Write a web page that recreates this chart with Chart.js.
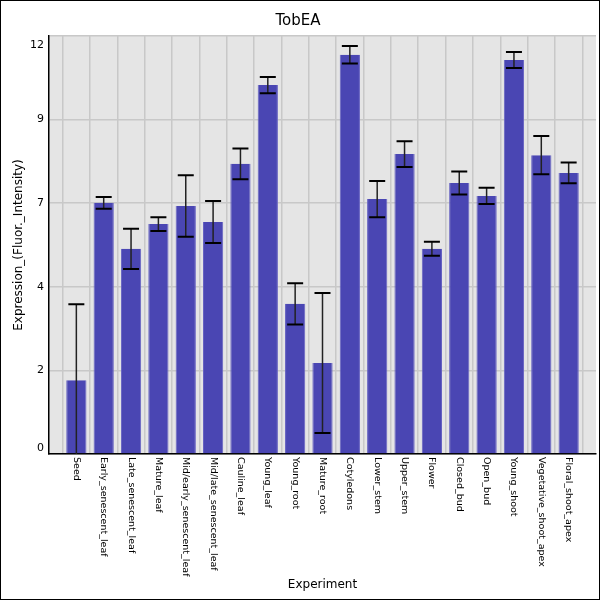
<!DOCTYPE html>
<html>
<head>
<meta charset="utf-8">
<title>TobEA</title>
<script src="https://cdn.jsdelivr.net/npm/chart.js@4.4.1/dist/chart.umd.min.js"></script>
<style>
  html, body { margin: 0; padding: 0; background: #fff; }
  canvas { display: block; }
</style>
</head>
<body>
<canvas id="tobChart" width="600" height="600"></canvas>
<script>
// Dados do gráfico
const categories = [
  'Seed', 'Early_senescent_leaf', 'Late_senescent_leaf', 'Mature_leaf',
  'Mid/early_senescent_leaf', 'Mid/late_senescent_leaf', 'Cauline_leaf',
  'Young_leaf', 'Young_root', 'Mature_root', 'Cotyledons', 'Lower_stem',
  'Upper_stem', 'Flower', 'Closed_bud', 'Open_bud', 'Young_shoot',
  'Vegetative_shoot_apex', 'Floral_shoot_apex'
];
const expression = [
  2.12, 7.21, 5.89, 6.60, 7.12, 6.66, 8.33, 10.59, 4.31, 2.61,
  11.46, 7.32, 8.61, 5.89, 7.78, 7.41, 11.31, 8.58, 8.07
];
const errors = [
  2.18, 0.17, 0.58, 0.20, 0.88, 0.60, 0.44, 0.23, 0.59, 2.01,
  0.25, 0.52, 0.37, 0.20, 0.33, 0.23, 0.23, 0.55, 0.30
];
const yTicks = [0, 2.4, 4.8, 7.2, 9.6, 12];

// Uma categoria vazia em cada ponta, como no original
const axisLabels = ['', ...categories, ''];
const axisValues = [null, ...expression, null];

const FONT = 'DejaVu Sans';

// Plugin: fundo cinza, barras de erro, rótulos e moldura
const decorPlugin = {
  id: 'decor',
  beforeDraw(chart) {
    const { ctx, chartArea: a } = chart;
    ctx.save();
    ctx.fillStyle = '#fff';
    ctx.fillRect(0, 0, chart.width, chart.height);
    ctx.fillStyle = '#e5e5e5';
    ctx.fillRect(a.left, a.top, a.right - a.left, a.bottom - a.top);
    ctx.restore();
  },
  afterDatasetsDraw(chart) {
    const { ctx, chartArea: a } = chart;
    const xs = chart.scales.x, ys = chart.scales.y;
    ctx.save();
    ctx.beginPath();
    ctx.rect(a.left, a.top - 2, a.right - a.left, a.bottom - a.top + 2);
    ctx.clip();
    expression.forEach((v, i) => {
      const x = xs.getPixelForValue(i + 1);
      const yHi = ys.getPixelForValue(v + errors[i]);
      const yLo = ys.getPixelForValue(v - errors[i]);
      ctx.strokeStyle = '#222';
      ctx.lineWidth = 1.5;
      ctx.beginPath();
      ctx.moveTo(x, yHi);
      ctx.lineTo(x, yLo);
      ctx.stroke();
      ctx.strokeStyle = '#000';
      ctx.lineWidth = 2;
      ctx.beginPath();
      ctx.moveTo(x - 8, yHi); ctx.lineTo(x + 8, yHi);
      ctx.moveTo(x - 8, yLo); ctx.lineTo(x + 8, yLo);
      ctx.stroke();
    });
    ctx.restore();
  },
  afterDraw(chart) {
    const { ctx, chartArea: a } = chart;
    const xs = chart.scales.x, ys = chart.scales.y;
    ctx.save();
    ctx.fillStyle = '#000';
    // rótulos do eixo Y (truncados, como no original)
    ctx.font = '11px "' + FONT + '"';
    ctx.textAlign = 'right';
    ctx.textBaseline = 'middle';
    yTicks.forEach(v => {
      let y = ys.getPixelForValue(v);
      if (v === yTicks[0]) y = a.bottom - 6;
      if (v === yTicks[yTicks.length - 1]) y = a.top + 9;
      ctx.fillText(String(Math.floor(v + 1e-9)), a.left - 5, y);
    });
    // rótulos do eixo X girados 90 graus
    ctx.font = '9.5px "' + FONT + '"';
    ctx.textAlign = 'left';
    categories.forEach((c, i) => {
      const x = xs.getPixelForValue(i + 1);
      ctx.save();
      ctx.translate(x, a.bottom + 3);
      ctx.rotate(Math.PI / 2);
      ctx.fillText(c, 0, 0);
      ctx.restore();
    });
    // moldura
    ctx.strokeStyle = '#000';
    ctx.lineWidth = 1;
    ctx.strokeRect(0.5, 0.5, chart.width - 1, chart.height - 1);
    ctx.restore();
  }
};

new Chart(document.getElementById('tobChart'), {
  type: 'bar',
  data: {
    labels: axisLabels,
    datasets: [{
      label: 'TobEA',
      data: axisValues,
      backgroundColor: '#4a46b3',
      borderColor: '#6662c2',
      borderWidth: { left: 1, right: 1, top: 0, bottom: 0 },
      barPercentage: 0.74,
      categoryPercentage: 1
    }]
  },
  options: {
    responsive: false,
    animation: false,
    devicePixelRatio: 1,
    layout: { padding: { left: 0, right: 4, top: 0, bottom: 0 } },
    plugins: {
      legend: { display: false },
      tooltip: { enabled: false },
      title: {
        display: true,
        text: 'TobEA',
        color: '#000',
        font: { family: FONT, size: 15, weight: 'normal' },
        padding: { top: 12, bottom: 6 }
      }
    },
    scales: {
      x: {
        offset: false,
        grid: { color: '#c8c8c8', lineWidth: 1.5, drawTicks: false },
        border: { display: true, color: '#000', width: 1.5 },
        ticks: { display: false },
        title: {
          display: true,
          text: 'Experiment',
          color: '#000',
          font: { family: FONT, size: 12 },
          padding: { top: 0, bottom: 8 }
        },
        afterFit(scale) { scale.height = 146; }
      },
      y: {
        min: 0,
        max: 12,
        grid: { color: '#c8c8c8', lineWidth: 1.5, drawTicks: false },
        border: { display: true, color: '#000', width: 1.5 },
        ticks: { display: false, stepSize: 2.4 },
        title: {
          display: true,
          text: 'Expression_(Fluor._Intensity)',
          color: '#000',
          font: { family: FONT, size: 12 },
          padding: { top: 12, bottom: 0 }
        },
        afterFit(scale) { scale.width = 49; }
      }
    }
  },
  plugins: [decorPlugin]
});
</script>
</body>
</html>
